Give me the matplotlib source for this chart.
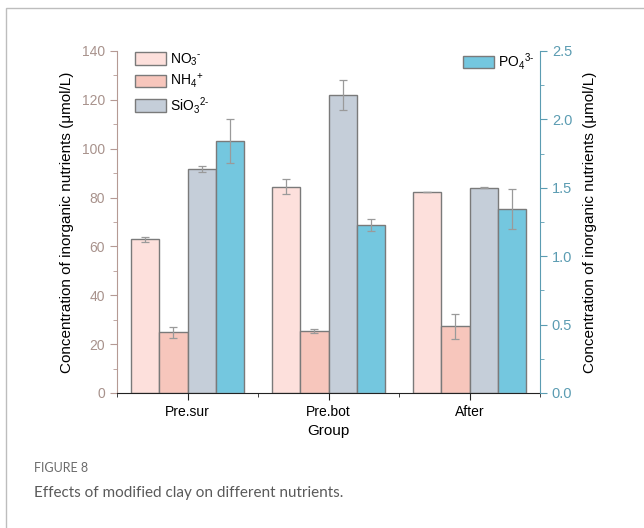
import numpy as np
import matplotlib
matplotlib.use('Agg')
from matplotlib import pyplot as plt
from matplotlib.patches import Rectangle
from matplotlib.ticker import MultipleLocator, FormatStrFormatter

plt.rcParams['font.family'] = ['Liberation Sans', 'DejaVu Sans']
plt.rcParams['mathtext.fontset'] = 'custom'
plt.rcParams['mathtext.rm'] = 'Liberation Sans'
plt.rcParams['mathtext.it'] = 'Liberation Sans'
plt.rcParams['mathtext.default'] = 'regular'

groups = ['Pre.sur', 'Pre.bot', 'After']
no3 = [62.9, 84.4, 82.3]
no3_err = [1.0, 3.0, 0.0]
nh4 = [24.8, 25.4, 27.4]
nh4_err = [2.2, 0.8, 5.1]
sio3 = [91.6, 122.0, 84.0]
sio3_err = [1.2, 6.0, 0.2]
po4 = [1.84, 1.228, 1.345]
po4_err = [0.16, 0.044, 0.143]

c_no3 = '#fde0dc'
c_nh4 = '#f7c6bc'
c_sio3 = '#c5ced9'
c_po4 = '#74c7df'
edge = '#7a7a7a'
left_col = '#b59a94'
right_col = '#5b9cb2'

fig = plt.figure(figsize=(6.44, 5.28), dpi=100)

# outer frame of the figure panel
fig.patches.append(Rectangle((6 / 644, -0.1), 1.1, 1 - 8 / 528 + 0.1,
                             transform=fig.transFigure, fill=False,
                             edgecolor='#bdbdbd', linewidth=1.0))

ax = fig.add_axes([117 / 644, 1 - 393 / 528, 423 / 644, 342 / 528])
ax2 = ax.twinx()

x = np.arange(1, len(groups) + 1)
w = 0.2
ekw = dict(ecolor='#9a9a9a', elinewidth=0.9, capsize=3, capthick=0.9)

ax.bar(x - 0.3, no3, w, yerr=no3_err, color=c_no3, edgecolor=edge,
       linewidth=1.0, error_kw=ekw, label=r'NO$_3$$^{\text{-}}$')
ax.bar(x - 0.1, nh4, w, yerr=nh4_err, color=c_nh4, edgecolor=edge,
       linewidth=1.0, error_kw=ekw, label=r'NH$_4$$^{+}$')
ax.bar(x + 0.1, sio3, w, yerr=sio3_err, color=c_sio3, edgecolor=edge,
       linewidth=1.0, error_kw=ekw, label=r'SiO$_3$$^{\text{2-}}$')
ax2.bar(x + 0.3, po4, w, yerr=po4_err, color=c_po4, edgecolor=edge,
        linewidth=1.0, error_kw=ekw, label=r'PO$_4$$^{\text{3-}}$')

ax.set_xlim(0.5, 3.5)
ax.set_ylim(0, 140)
ax2.set_ylim(0, 2.5)

ax.set_xticks(x)
ax.set_xticklabels(groups, fontsize=10)
ax.set_xticks([0.5, 1.5, 2.5, 3.5], minor=True)
ax.yaxis.set_major_locator(MultipleLocator(20))
ax.yaxis.set_minor_locator(MultipleLocator(10))
ax2.yaxis.set_major_locator(MultipleLocator(0.5))
ax2.yaxis.set_minor_locator(MultipleLocator(0.25))
ax2.yaxis.set_major_formatter(FormatStrFormatter('%.1f'))

for a in (ax, ax2):
    a.spines['top'].set_visible(False)
ax.spines['right'].set_visible(False)
ax2.spines['left'].set_visible(False)
ax2.spines['bottom'].set_visible(False)
ax.spines['left'].set_color(left_col)
ax2.spines['right'].set_color(right_col)
ax.spines['bottom'].set_color('#222222')

ax.tick_params(axis='y', which='major', colors=left_col, labelcolor='#a8928c',
               labelsize=10, length=5, direction='out')
ax.tick_params(axis='y', which='minor', colors=left_col, length=3)
ax2.tick_params(axis='y', which='major', colors=right_col, labelcolor='#5b9cb2',
                labelsize=10.5, length=5, direction='out')
ax2.tick_params(axis='y', which='minor', colors=right_col, length=3)
ax.tick_params(axis='x', which='major', length=5, color='#222222', labelsize=10)
ax.tick_params(axis='x', which='minor', length=3, color='#222222')

ax.set_xlabel('Group', fontsize=11, labelpad=4)
ax.set_ylabel('Concentration of inorganic nutrients (μmol/L)', fontsize=11,
              labelpad=6)
ax2.set_ylabel('Concentration of inorganic nutrients (μmol/L)', fontsize=11,
               labelpad=8)

ax.legend(loc='upper left', bbox_to_anchor=(0.03, 1.015), frameon=False,
          fontsize=10, handlelength=2.2, handleheight=1.0, labelspacing=0.3,
          handletextpad=0.3, borderaxespad=0)
ax2.legend(loc='upper right', bbox_to_anchor=(1.0, 1.015), frameon=False,
           fontsize=10, handlelength=2.2, handleheight=1.0,
           handletextpad=0.3, borderaxespad=0)

fig.text(34 / 644, 1 - 468 / 528, 'FIGURE 8', fontsize=9, color='#6b6b6b',
         family=['Lato', 'DejaVu Sans'], va='center')
fig.text(34 / 644, 1 - 493 / 528,
         'Effects of modified clay on different nutrients.', fontsize=11,
         color='#5a5a5a', family=['Lato', 'DejaVu Sans'], va='center')

fig.savefig('out.png', dpi=100)
